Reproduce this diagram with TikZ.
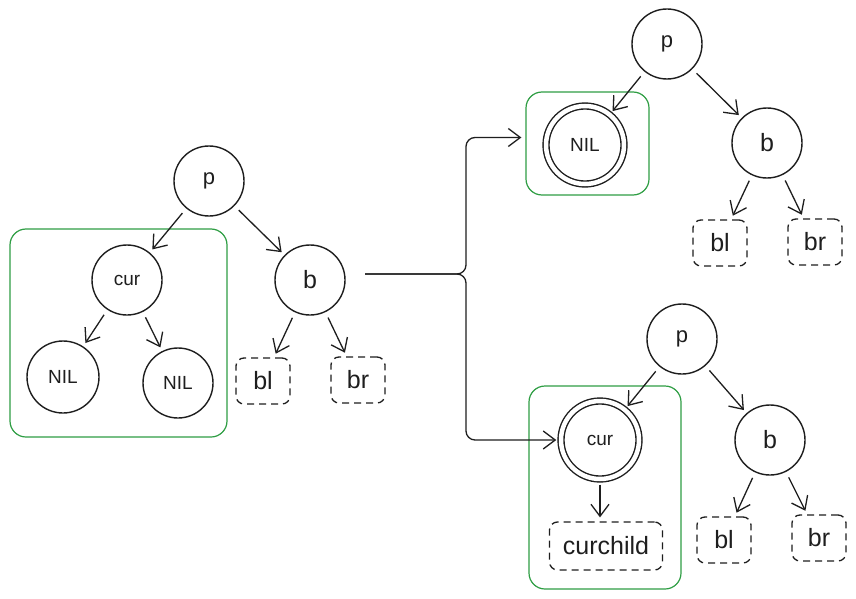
\documentclass[tikz,border=0pt]{standalone}
\usepackage{fontspec}
\setmainfont{Liberation Sans}
\usetikzlibrary{arrows.meta}
\definecolor{ink}{HTML}{1E1E1E}
\definecolor{grn}{HTML}{2F9E44}
\tikzset{
  nd/.style={circle, draw=ink, line width=1.4pt, minimum size=70pt, inner sep=0pt, text=ink},
  dnd/.style={nd, double, double distance=4.5pt, minimum size=78pt},
  leaf/.style={draw=ink, dash pattern=on 7pt off 5pt, rounded corners=8pt, line width=1.3pt, minimum width=54pt, minimum height=46pt, inner sep=2pt, text=ink, font=\fontsize{25}{29}\selectfont},
  grp/.style={draw=grn, line width=1.2pt, rounded corners=16pt, inner sep=0pt},
  arr/.style={draw=ink, line width=1.3pt, -{Straight Barb[length=12pt,width=18pt]}, shorten >=4pt, shorten <=6pt},
  big/.style={font=\fontsize{25}{29}\selectfont},
  mid/.style={font=\fontsize{22}{26}\selectfont},
  small/.style={font=\fontsize{19}{22}\selectfont},
}
\begin{document}
\begin{tikzpicture}[x=1pt,y=-1pt]
\useasboundingbox[fill=white] (0,0) rectangle (856,599);
% group boxes
\node[grp, minimum width=217pt, minimum height=208pt] (g1) at (118.5,333) {};
\node[grp, minimum width=123pt, minimum height=103pt] (g2) at (587.5,143.5) {};
\node[grp, minimum width=152pt, minimum height=203pt] (g3) at (605,487.5) {};
% left tree
\node[nd, mid] (p1) at (209,181) {p};
\node[nd, small] (cur1) at (127,280) {cur};
\node[nd, big] (b1) at (310,280) {b};
\node[nd, small, minimum size=72pt] (nl1) at (63,377) {NIL};
\node[nd, small] (nr1) at (178,383) {NIL};
\node[leaf] (bl1) at (263,381) {bl};
\node[leaf] (br1) at (358,380) {br};
\draw[arr] (p1) -- (cur1);
\draw[arr] (p1) -- (b1);
\draw[arr] (cur1) -- (nl1);
\draw[arr] (cur1) -- (nr1);
\draw[arr] (b1) -- (bl1);
\draw[arr] (b1) -- (br1);
% top right tree
\node[nd, mid] (p2) at (667,44) {p};
\node[dnd, small] (nil2) at (585,145) {NIL};
\node[nd, big] (b2) at (767,143) {b};
\node[leaf] (bl2) at (720,243) {bl};
\node[leaf] (br2) at (815,242) {br};
\draw[arr] (p2) -- (nil2);
\draw[arr] (p2) -- (b2);
\draw[arr] (b2) -- (bl2);
\draw[arr] (b2) -- (br2);
% bottom right tree
\node[nd, mid] (p3) at (682,339) {p};
\node[dnd, small] (cur3) at (600,440) {cur};
\node[nd, big] (b3) at (770,440) {b};
\node[leaf, minimum width=113pt, minimum height=48pt] (cc3) at (606,546) {curchild};
\node[leaf] (bl3) at (724,540) {bl};
\node[leaf] (br3) at (819,538) {br};
\draw[arr] (p3) -- (cur3);
\draw[arr] (p3) -- (b3);
\draw[arr, shorten <=5pt] (cur3.south) -- (cur3.south |- cc3.north);
\draw[arr] (b3) -- (bl3);
\draw[arr] (b3) -- (br3);
% main splitting connector
\coordinate (start) at (365,274);
\coordinate (split) at (466,274);
\draw[arr, shorten <=0pt, rounded corners=9pt] (start) -- (split) |- ([yshift=6pt]g2.west);
\draw[arr, shorten <=0pt, rounded corners=9pt] (start) -- (split) |- (cur3.west);
\end{tikzpicture}
\end{document}
